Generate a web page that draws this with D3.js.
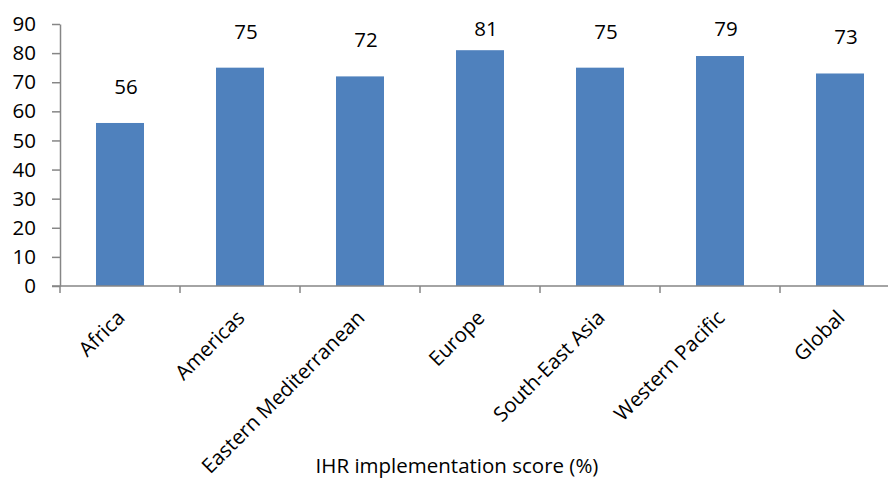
<!DOCTYPE html>
<html>
<head>
<meta charset="utf-8">
<script src="https://cdn.jsdelivr.net/npm/d3@7"></script>
<style>
  html, body { margin: 0; padding: 0; background: #fff; }
  svg { display: block; }
  text { font-family: "Open Sans", "DejaVu Sans", sans-serif; fill: #000; }
</style>
</head>
<body>
<svg id="chart" width="888" height="479"></svg>
<script>
const categories = ["Africa", "Americas", "Eastern Mediterranean", "Europe", "South-East Asia", "Western Pacific", "Global"];
const scores = [56, 75, 72, 81, 75, 79, 73];
const yTicks = [0, 10, 20, 30, 40, 50, 60, 70, 80, 90];
const axisTitle = "IHR implementation score (%)";

(function () {
const W = 888, H = 479;
const mLeft = 60, mRight = 900, mTop = 24, mBottom = 286;
const fontSize = 20.5;
const axisColor = "#868686";
const barColor = "#4F81BD";

const svg = d3.select("#chart");
svg.append("rect").attr("width", W).attr("height", H).attr("fill", "#fff");

const x = d3.scaleBand().domain(categories).range([mLeft, mRight]).paddingInner(0.6).paddingOuter(0.3);
const y = d3.scaleLinear().domain([0, 90]).range([mBottom, mTop]);

// Bars
svg.append("g").selectAll("rect")
  .data(categories.map((c, i) => ({ c, v: scores[i] })))
  .join("rect")
  .attr("x", d => x(d.c))
  .attr("y", d => y(d.v))
  .attr("width", x.bandwidth())
  .attr("height", d => y(0) - y(d.v))
  .attr("fill", barColor);

// Y axis
const yAxis = d3.axisLeft(y).tickValues(yTicks).tickSize(8).tickPadding(16).tickSizeOuter(0);
const gy = svg.append("g").attr("transform", `translate(${mLeft},0)`).call(yAxis);
gy.select(".domain").attr("stroke", axisColor).attr("stroke-width", 1.5);
gy.selectAll(".tick line").attr("stroke", axisColor).attr("stroke-width", 1.5);
gy.selectAll(".tick text").attr("font-size", fontSize).attr("font-family", "Open Sans, sans-serif").attr("fill", "#000");

// X axis line (extends to the right edge)
svg.append("line")
  .attr("x1", mLeft - 8).attr("x2", W).attr("y1", mBottom).attr("y2", mBottom)
  .attr("stroke", axisColor).attr("stroke-width", 1.5);

// X category boundary ticks
const step = x.step();
const boundaries = categories.map(c => x(c) - (step - x.bandwidth()) / 2);
svg.append("g").selectAll("line")
  .data(boundaries)
  .join("line")
  .attr("x1", d => d).attr("x2", d => d)
  .attr("y1", mBottom).attr("y2", mBottom + 7)
  .attr("stroke", axisColor).attr("stroke-width", 1.5);

// Category labels rotated -45
svg.append("g").selectAll("text")
  .data(categories)
  .join("text")
  .attr("transform", d => `translate(${x(d) + x.bandwidth() / 2 + 6},${mBottom + 33}) rotate(-45)`)
  .attr("text-anchor", "end")
  .attr("font-size", fontSize)
  .text(d => d);

// Value labels
svg.append("g").selectAll("text")
  .data(categories.map((c, i) => ({ c, v: scores[i] })))
  .join("text")
  .attr("x", d => x(d.c) + x.bandwidth() / 2 + 6)
  .attr("y", d => Math.max(36, y(d.v) - 29))
  .attr("text-anchor", "middle")
  .attr("font-size", fontSize)
  .text(d => d.v);

// Axis title
svg.append("text")
  .attr("x", 457)
  .attr("y", 473)
  .attr("text-anchor", "middle")
  .attr("font-size", fontSize)
  .text(axisTitle);
})();
</script>
</body>
</html>
